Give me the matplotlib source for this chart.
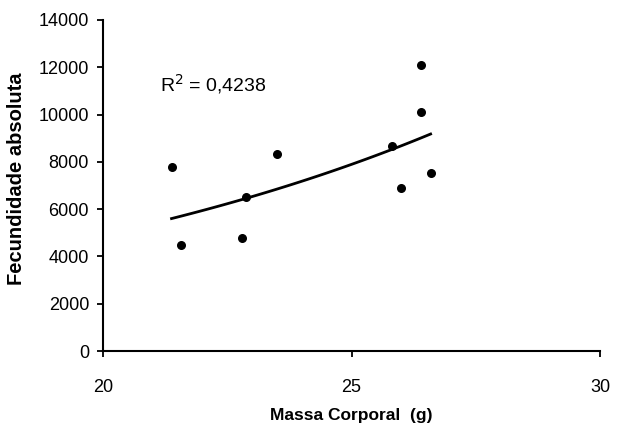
import numpy as np
import matplotlib
matplotlib.use("Agg")
import matplotlib.pyplot as plt

# Data
massa = [21.38, 21.58, 22.79, 22.88, 23.51, 25.81, 26.00, 26.40, 26.40, 26.59]
fecundidade = [7800, 4480, 4790, 6530, 8330, 8660, 6910, 12100, 10100, 7520]
x_ticks = [20, 25, 30]
y_ticks = [0, 2000, 4000, 6000, 8000, 10000, 12000, 14000]
r2_text = "R$^2$ = 0,4238"

fam = ["Liberation Sans Narrow", "Liberation Sans", "DejaVu Sans"]

fig = plt.figure(figsize=(6.2, 4.34), dpi=100)
ax = fig.add_axes([0.166, 0.191, 0.802, 0.763])

ax.scatter(massa, fecundidade, s=30, color="black", zorder=3)

# exponential trendline (Excel-style: fit on ln y)
xa = np.array(massa)
ya = np.array(fecundidade)
b, lna = np.polyfit(xa, np.log(ya), 1)
xt = np.linspace(xa.min(), xa.max(), 100)
ax.plot(xt, np.exp(lna) * np.exp(b * xt), color="black", lw=2)

ax.set_xlim(20, 30)
ax.set_ylim(0, 14000)
ax.set_xticks(x_ticks)
ax.set_yticks(y_ticks)
for lbl in ax.get_xticklabels() + ax.get_yticklabels():
    lbl.set_family(fam)
    lbl.set_fontsize(13)
ax.tick_params(axis="y", length=4, width=1.3, pad=6, colors="black")
ax.tick_params(axis="x", length=4, width=1.3, pad=16, colors="black")

for s in ["top", "right"]:
    ax.spines[s].set_visible(False)
for s in ["left", "bottom"]:
    ax.spines[s].set_linewidth(1.5)

ax.set_xlabel("Massa Corporal  (g)", family=fam, fontweight="bold", fontsize=12.5, labelpad=9)
ax.set_ylabel("Fecundidade absoluta", family=fam, fontweight="bold", fontsize=14.5)
ax.yaxis.set_label_coords(-0.155, 0.52)

ax.text(21.15, 11300, r2_text, family=fam, fontsize=14, ha="left", va="center")

fig.savefig("out.png", dpi=100)
